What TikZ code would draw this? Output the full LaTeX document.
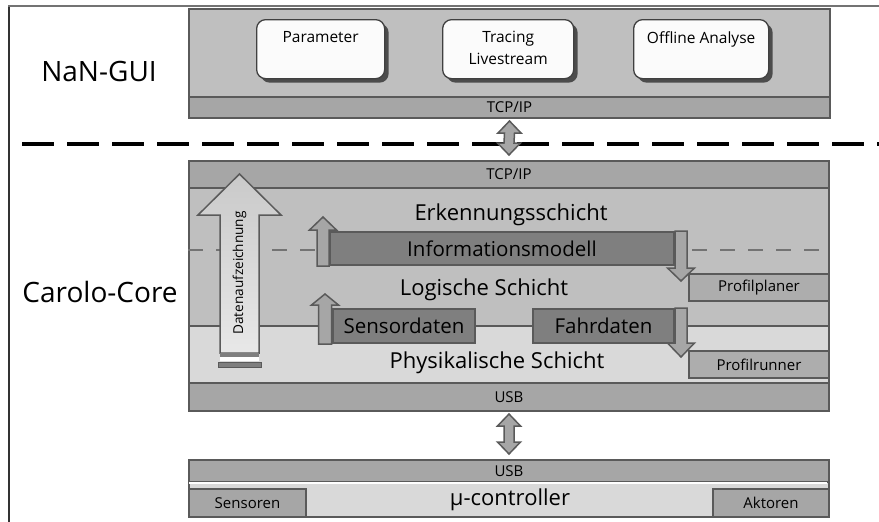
\documentclass[tikz,border=0pt]{standalone}
\usepackage{fontspec}
\setmainfont{Open Sans}
\usetikzlibrary{shadows,positioning}
\definecolor{edge}{HTML}{5A5A5A}
\definecolor{layer}{HTML}{BFBFBF}
\definecolor{band}{HTML}{A6A6A6}
\definecolor{phys}{HTML}{D9D9D9}
\definecolor{block}{HTML}{7F7F7F}
\definecolor{profil}{HTML}{ADADAD}
\definecolor{appfill}{HTML}{FBFBFB}

% block arrows: foot point (shaft centre), tip point, shaft half width, head half width, head length
\newcommand\blockup[6][]{%
  \draw[blockarrow,#1] ([xshift=-#4]#2) -- ([shift={(-#4,-#6)}]#3) -- ([shift={(-#5,-#6)}]#3)
    -- (#3) -- ([shift={(#5,-#6)}]#3) -- ([shift={(#4,-#6)}]#3) -- ([xshift=#4]#2) -- cycle;}
\newcommand\blockdown[6][]{%
  \draw[blockarrow,#1] ([xshift=-#4]#2) -- ([shift={(-#4,#6)}]#3) -- ([shift={(-#5,#6)}]#3)
    -- (#3) -- ([shift={(#5,#6)}]#3) -- ([shift={(#4,#6)}]#3) -- ([xshift=#4]#2) -- cycle;}
% two-headed block arrow between an upper and a lower tip
\newcommand\blockboth[2]{%
  \draw[blockarrow] (#1) -- ([shift={(11.5pt,-12pt)}]#1) -- ([shift={(5pt,-12pt)}]#1)
    -- ([shift={(5pt,12pt)}]#2) -- ([shift={(11.5pt,12pt)}]#2) -- (#2)
    -- ([shift={(-11.5pt,12pt)}]#2) -- ([shift={(-5pt,12pt)}]#2)
    -- ([shift={(-5pt,-12pt)}]#1) -- ([shift={(-11.5pt,-12pt)}]#1) -- cycle;}

\begin{document}
\begin{tikzpicture}[x=1pt, y=-1pt, line join=miter,
  every node/.style={inner sep=0pt},
  layerbox/.style={draw=edge, line width=2pt, fill=layer, anchor=north west},
  bandbox/.style={draw=edge, line width=2pt, fill=band, minimum width=640pt,
    font=\fontsize{15}{18}\selectfont},
  blockbox/.style={draw=edge, line width=2pt, fill=block, anchor=north west,
    font=\fontsize{20.5}{24}\selectfont},
  profbox/.style={draw=edge, line width=2pt, fill=profil, anchor=north west,
    minimum width=140pt, minimum height=27pt, font=\fontsize{15}{18}\selectfont},
  app/.style={draw=black!75, line width=1.3pt, fill=appfill, rounded corners=9pt,
    anchor=north west, minimum height=59pt,
    drop shadow={shadow xshift=4pt, shadow yshift=-4pt, fill=black!70, opacity=1}},
  apptxt/.style={anchor=north, yshift=-12pt, align=center, font=\fontsize{15.5}{22}\selectfont},
  blockarrow/.style={draw=edge, line width=1.5pt, fill=band},
  side/.style={font=\fontsize{28}{32}\selectfont},
  tier/.style={font=\fontsize{22}{26}\selectfont}]

\useasboundingbox (0,0) rectangle (879,522);

% frame and the split between GUI and core
\draw[black!80, line width=2pt] (9,522) -- (9,6);
\draw[black!55, line width=2pt] (8,6) -- (879,6);
\draw[black, line width=4.5pt, dash pattern=on 32pt off 13pt] (22,144) -- (879,144);

% ================================================================ NaN-GUI
\node[layerbox, minimum width=641pt, minimum height=109pt] (gui) at (188,8) {};
\node[bandbox, minimum width=641pt, minimum height=21pt, anchor=south west] (tcpGui)
  at (gui.south west) {TCP/IP};
\node[app, minimum width=128pt, label={[apptxt]north:Parameter}] (param) at (256,19) {};
\node[app, minimum width=131pt, label={[apptxt]north:Tracing\\Livestream}] (trace) at (442,19) {};
\node[app, minimum width=135pt, label={[apptxt]north:Offline Analyse}] (offline) at (633,19) {};
\node[side] (nan) at (99,71) {NaN-GUI};

% ================================================================ Carolo-Core
\node[layerbox, minimum width=640pt, minimum height=250pt] (core) at (188,160) {};
\node[bandbox, minimum height=27pt, anchor=north west] (tcpCore) at (core.north west) {TCP/IP};
\node[layerbox, fill=phys, minimum width=640pt, minimum height=57pt] (phys) at (188,325) {};
\node[bandbox, minimum height=28pt, anchor=south west] (usbCore) at (core.south west) {USB};
\draw[edge!85!white, line width=2.5pt, dash pattern=on 15pt off 13pt] (188,250) -- (828,250);

\node[blockbox, minimum width=344pt, minimum height=33pt] (info) at (329,231) {Informationsmodell};
\node[blockbox, minimum width=142pt, minimum height=34pt] (sens) at (332,308) {Sensordaten};
\node[blockbox, minimum width=141pt, minimum height=34pt] (fahr) at (532,308) {Fahrdaten};
\node[profbox] (plan) at (688,273) {Profilplaner};
\node[profbox] (run) at (688,350) {Profilrunner};

% data going up, plans going down
\coordinate (infoFoot) at ([xshift=-6pt]info.south west);
\coordinate (infoTip) at ([shift={(-6pt,14pt)}]info.north west);
\blockup{infoFoot}{infoTip}{6pt}{13.5pt}{13pt}
\coordinate (sensFoot) at ([xshift=-7pt]sens.south west);
\coordinate (sensTip) at ([shift={(-7pt,14pt)}]sens.north west);
\blockup{sensFoot}{sensTip}{6.5pt}{13.5pt}{11pt}
\coordinate (infoDrop) at ([xshift=6pt]info.north east);
\coordinate (planTip) at ([yshift=-8pt]infoDrop |- plan.north);
\blockdown{infoDrop}{planTip}{6pt}{13.5pt}{13pt}
\coordinate (fahrDrop) at ([xshift=6pt]fahr.north east);
\coordinate (runTip) at ([yshift=-7pt]fahrDrop |- run.north);
\blockdown{fahrDrop}{runTip}{6pt}{13.5pt}{14pt}

% recorder arrow through all layers
\coordinate (logFoot) at (239.5,353);
\coordinate (logTip) at (239.5,174);
\blockup[top color=black!21, bottom color=black!9]{logFoot}{logTip}{19.5pt}{41.5pt}{41pt}
\fill[block] (220,353) rectangle (259,357);
\fill[white] (220,357) rectangle (259,361);
\draw[edge, fill=block, line width=1pt] (218,362) rectangle (261,367);
\node[rotate=90, font=\fontsize{13.6}{16}\selectfont] (logTxt) at (239.5,273) {Datenaufzeichnung};

\node[tier] (erk) at (511,215) {Erkennungsschicht};
\node[tier] (logic) at (484,290) {Logische Schicht};
\node[tier] (physTxt) at (497,363) {Physikalische Schicht};
\node[side] (carolo) at (100,292) {Carolo-Core};

% ================================================================ controller
\node[layerbox, fill=phys, minimum width=640pt, minimum height=57pt] (mcu) at (188,459) {};
\node[bandbox, minimum height=22pt, anchor=north west] (usbMcu) at (mcu.north west) {USB};
\draw[white, line width=1.5pt] (189,483) -- (827,483);
\node[profbox, fill=band, minimum width=117pt, minimum height=28pt, anchor=south west]
  (sensoren) at (mcu.south west) {Sensoren};
\node[profbox, fill=band, minimum width=116pt, minimum height=28pt, anchor=south east]
  (aktoren) at (mcu.south east) {Aktoren};
\node[tier] (mc) at (510,500) {µ-controller};

% links between the parts
\coordinate (guiTip) at ([yshift=-2pt]tcpGui.south);
\coordinate (coreTip) at ([yshift=5pt]tcpCore.north);
\blockboth{guiTip}{coreTip}
\coordinate (usbTip) at ([yshift=-2pt]usbCore.south);
\coordinate (mcuTip) at ([yshift=5pt]usbMcu.north);
\blockboth{usbTip}{mcuTip}

\end{tikzpicture}
\end{document}
